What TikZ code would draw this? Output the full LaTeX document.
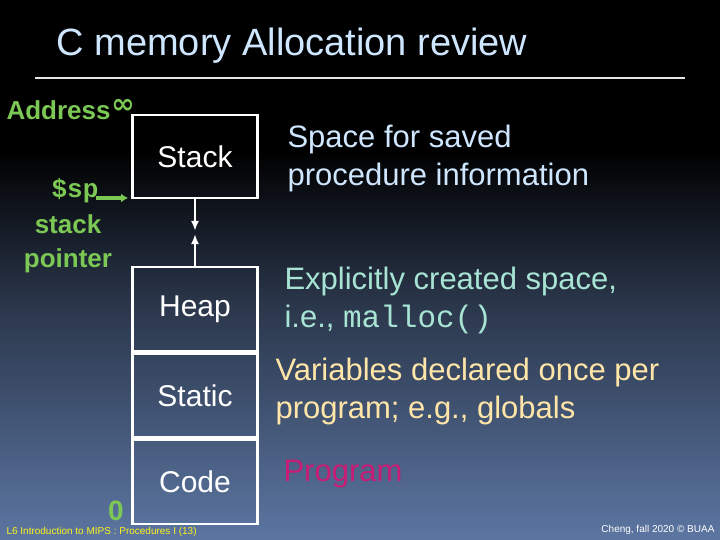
\documentclass[tikz,border=0pt]{standalone}
\usepackage{fontspec}
\usetikzlibrary{arrows.meta}
\setmainfont{Liberation Sans}
\newfontfamily\dejavu{DejaVu Sans}
\setmonofont{Liberation Mono}
\begin{document}
\begin{tikzpicture}[x=1pt,y=-1pt,
  box/.style={draw=white,line width=2.4pt,minimum width=125pt,minimum height=84pt,inner sep=0pt,text=white,font=\fontsize{30}{34}\selectfont},
  desc/.style={anchor=west,align=left,font=\fontsize{31}{38}\selectfont}]
\definecolor{gn}{HTML}{7CC854}
\definecolor{tl}{HTML}{CFE6FF}
\definecolor{tq}{HTML}{A8E4D4}
\definecolor{yl}{HTML}{FFE6A8}
\definecolor{mg}{HTML}{C81C76}
\definecolor{bottomc}{HTML}{5C76A2}
\useasboundingbox (0,0) rectangle (720,540);
\fill[black] (0,0) rectangle (720,151);
\shade[top color=black,bottom color=black!55!bottomc] (0,150) rectangle (720,301);
\shade[top color=black!55!bottomc,bottom color=bottomc] (0,300) rectangle (720,540);
\node[anchor=west,text=tl,font=\fontsize{38}{42}\selectfont] (title) at (53,46) {C memory Allocation review};
\draw[white!80!gray,line width=1.2pt] (35,78) -- (685,78);
\node[box,minimum height=83pt] (stack) at (195,156.5) {Stack};
\node[box] (heap) at (195,309) {Heap};
\node[box,anchor=north] (static) at (heap.south) {Static};
\node[box,anchor=north] (code) at (static.south) {Code};
\coordinate (d1) at (195,231);
\coordinate (u1) at (195,234);
\draw[white,line width=2.4pt,-{Latex[length=10pt,width=8pt]}] (stack.south) -- (d1);
\draw[white,line width=2.4pt,-{Latex[length=10pt,width=8pt]}] (heap.north) -- (u1);
\node[anchor=west,text=gn,font=\bfseries\fontsize{26}{28}\selectfont] (addr) at (3,110) {Address};
\node[text=gn,font=\dejavu\bfseries\fontsize{28}{28}\selectfont] (inf) at (123,106) {∞};
\node[text=gn,font=\ttfamily\bfseries\fontsize{26}{28}\selectfont] (sp) at (75,191) {\$sp};
\coordinate (spa) at (96,198);
\coordinate (spb) at (128,198);
\draw[gn,line width=3.5pt,-{Latex[length=7pt,width=9pt]}] (spa) -- (spb);
\node[text=gn,font=\bfseries\fontsize{26}{34}\selectfont,align=center] (spl) at (68,244) {stack\\pointer};
\node[text=gn,font=\bfseries\fontsize{28}{28}\selectfont] (zero) at (116,511) {0};
\node[desc,text=tl] (d1t) at (284,158) {Space for saved\\procedure information};
\node[desc,text=tq] (d2t) at (281,300) {Explicitly created space,\\i.e., {\ttfamily malloc()}};
\node[desc,text=yl] (d3t) at (272,391) {Variables declared once per\\program; e.g., globals};
\node[desc,text=mg] (d4t) at (280,474) {Program};
\node[anchor=west,text=yellow!90!white,font=\fontsize{10}{11}\selectfont] (fl) at (3,532) {L6 Introduction to MIPS : Procedures I (13)};
\node[anchor=east,text=white,font=\fontsize{10}{11}\selectfont] (fr) at (718,530) {Cheng, fall 2020 © BUAA};
\end{tikzpicture}
\end{document}
